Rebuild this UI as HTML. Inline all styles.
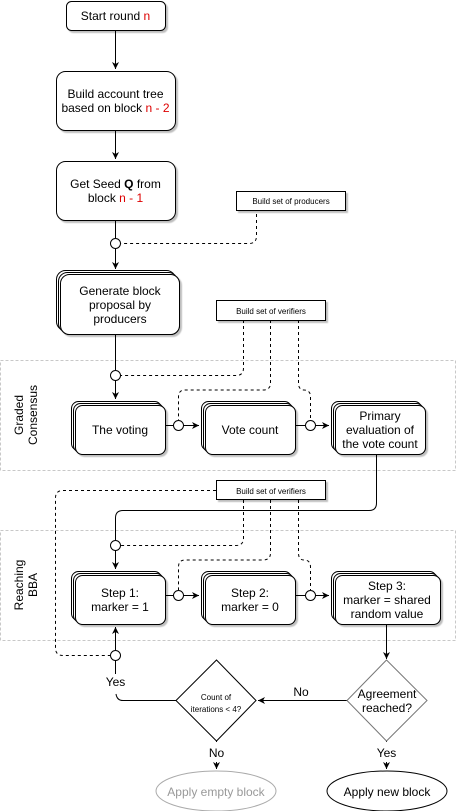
<!DOCTYPE html>
<html><head><meta charset="utf-8"><style>
html,body{margin:0;padding:0;background:#fff;}
svg{display:block;font-family:"Liberation Sans",Arial,sans-serif;}
</style></head><body>
<svg width="456" height="811" viewBox="0 0 456 811" xmlns="http://www.w3.org/2000/svg">
<defs>
<marker id="a" markerWidth="8" markerHeight="8" refX="7" refY="4" orient="auto" markerUnits="userSpaceOnUse">
<path d="M0,0.5 L7,4 L0,7.5 L2,4 Z" fill="#000"/></marker>
<filter id="s" x="-10%" y="-10%" width="130%" height="130%"><feDropShadow dx="2" dy="2" stdDeviation="0.6" flood-color="#000" flood-opacity="0.25"/></filter>
</defs>
<rect x="0.5" y="360.5" width="455" height="110" fill="none" stroke="#c8c8c8" stroke-dasharray="3,2"/>
<rect x="0.5" y="530.5" width="455" height="110" fill="none" stroke="#c8c8c8" stroke-dasharray="3,2"/>
<text transform="translate(25,415) rotate(-90)" font-size="12" text-anchor="middle"><tspan x="0" y="-2">Graded</tspan><tspan x="0" y="12">Consensus</tspan></text>
<text transform="translate(25,585) rotate(-90)" font-size="12" text-anchor="middle"><tspan x="0" y="-2">Reaching</tspan><tspan x="0" y="12">BBA</tspan></text>

<g stroke="#000" fill="none" stroke-width="1">
<line x1="115.5" y1="30" x2="115.5" y2="69" marker-end="url(#a)"/>
<line x1="115.5" y1="130" x2="115.5" y2="159" marker-end="url(#a)"/>
<line x1="115.5" y1="220" x2="115.5" y2="238"/>
<line x1="115.5" y1="248" x2="115.5" y2="269" marker-end="url(#a)"/>
<line x1="115.5" y1="334" x2="115.5" y2="370"/>
<line x1="115.5" y1="380" x2="115.5" y2="399" marker-end="url(#a)"/>
<line x1="165" y1="425.5" x2="173" y2="425.5"/>
<line x1="183" y1="425.5" x2="199" y2="425.5" marker-end="url(#a)"/>
<line x1="295" y1="425.5" x2="305" y2="425.5"/>
<line x1="315" y1="425.5" x2="329" y2="425.5" marker-end="url(#a)"/>
<path d="M376.5,455 V503 Q376.5,510.5 369,510.5 H123 Q115.5,510.5 115.5,518 V540"/>
<line x1="115.5" y1="550" x2="115.5" y2="569" marker-end="url(#a)"/>
<line x1="165" y1="595.5" x2="173" y2="595.5"/>
<line x1="183" y1="595.5" x2="199" y2="595.5" marker-end="url(#a)"/>
<line x1="295" y1="595.5" x2="305" y2="595.5"/>
<line x1="315" y1="595.5" x2="329" y2="595.5" marker-end="url(#a)"/>
<line x1="386.5" y1="625" x2="386.5" y2="659" marker-end="url(#a)"/>
<line x1="347" y1="700.5" x2="258" y2="700.5" marker-end="url(#a)"/>
<path d="M176,700.5 H123 Q117,700.5 116,694"/>
<line x1="115.5" y1="676" x2="115.5" y2="660"/>
<line x1="115.5" y1="650" x2="115.5" y2="627" marker-end="url(#a)"/>
<line x1="216.5" y1="740" x2="216.5" y2="769" marker-end="url(#a)"/>
<line x1="386.5" y1="740" x2="386.5" y2="769" marker-end="url(#a)"/>
</g>
<g stroke="#000" fill="none" stroke-dasharray="3,3">
<path d="M256.5,214 V236 Q256.5,243.5 249,243.5 H120.5"/>
<path d="M243.5,320 V368 Q243.5,375.5 236,375.5 H120.5"/>
<path d="M270.5,320 V383 Q270.5,390 263,390 H185 Q178.5,390 178.5,397 V420"/>
<path d="M298.5,320 V383 Q298.5,390 304,390 Q310.5,390 310.5,397 V420"/>
<path d="M216,490.5 H63 Q55.5,490.5 55.5,498 V648 Q55.5,655.5 63,655.5 H110.5"/>
<path d="M243.5,500 V538 Q243.5,545.5 236,545.5 H120.5"/>
<path d="M270.5,500 V553 Q270.5,560 263,560 H185 Q178.5,560 178.5,567 V590"/>
<path d="M298.5,500 V553 Q298.5,560 304,560 Q310.5,560 310.5,567 V590"/>
</g>
<g fill="#fff" stroke="#000">
<circle cx="115.5" cy="243.5" r="5"/>
<circle cx="115.5" cy="375.5" r="5"/>
<circle cx="178.5" cy="425.5" r="5"/>
<circle cx="310.5" cy="425.5" r="5"/>
<circle cx="115.5" cy="545.5" r="5"/>
<circle cx="178.5" cy="595.5" r="5"/>
<circle cx="310.5" cy="595.5" r="5"/>
<circle cx="115.5" cy="655.5" r="5"/>
</g>
<g fill="#fff" stroke="#000" filter="url(#s)">
<rect x="66.5" y="1.5" width="99" height="29" rx="5"/>
<rect x="56.5" y="71.5" width="119" height="59" rx="9"/>
<rect x="56.5" y="161.5" width="119" height="59" rx="9"/>
<rect x="236.5" y="191.5" width="109" height="19"/>
<rect x="216.5" y="300.5" width="109" height="20"/>
<rect x="216.5" y="480.5" width="109" height="19"/>
</g>
<g fill="#fff" stroke="#000">
<g filter="url(#s)">
<rect x="60.5" y="274.5" width="119" height="60" rx="9"/>
<rect x="75.5" y="405.5" width="90" height="49" rx="7"/>
<rect x="205.5" y="405.5" width="90" height="49" rx="7"/>
<rect x="335.5" y="405.5" width="90" height="49" rx="7"/>
<rect x="75.5" y="575.5" width="90" height="49" rx="7"/>
<rect x="205.5" y="575.5" width="90" height="49" rx="7"/>
<rect x="335.5" y="575.5" width="105" height="49" rx="7"/>
</g>
<rect x="56.5" y="270.5" width="119" height="60" rx="9"/>
<rect x="58.5" y="272.5" width="119" height="60" rx="9"/>
<rect x="60.5" y="274.5" width="119" height="60" rx="9"/>
<rect x="71.5" y="401.5" width="90" height="49" rx="7"/><rect x="73.5" y="403.5" width="90" height="49" rx="7"/><rect x="75.5" y="405.5" width="90" height="49" rx="7"/>
<rect x="201.5" y="401.5" width="90" height="49" rx="7"/><rect x="203.5" y="403.5" width="90" height="49" rx="7"/><rect x="205.5" y="405.5" width="90" height="49" rx="7"/>
<rect x="331.5" y="401.5" width="90" height="49" rx="7"/><rect x="333.5" y="403.5" width="90" height="49" rx="7"/><rect x="335.5" y="405.5" width="90" height="49" rx="7"/>
<rect x="71.5" y="571.5" width="90" height="49" rx="7"/><rect x="73.5" y="573.5" width="90" height="49" rx="7"/><rect x="75.5" y="575.5" width="90" height="49" rx="7"/>
<rect x="201.5" y="571.5" width="90" height="49" rx="7"/><rect x="203.5" y="573.5" width="90" height="49" rx="7"/><rect x="205.5" y="575.5" width="90" height="49" rx="7"/>
<rect x="331.5" y="571.5" width="105" height="49" rx="7"/><rect x="333.5" y="573.5" width="105" height="49" rx="7"/><rect x="335.5" y="575.5" width="105" height="49" rx="7"/>
</g>
<polygon points="386.5,660 427,700.5 386.5,741 347,700.5" fill="#fff" stroke="#777"/>
<polygon points="216.5,660 256,700.5 216.5,741 176,700.5" fill="#fff" stroke="#000"/>
<ellipse cx="216" cy="791" rx="60" ry="20" fill="#fff" stroke="#aaa"/>
<ellipse cx="387" cy="791" rx="60" ry="20" fill="#fff" stroke="#000"/>
<rect x="103" y="674" width="25" height="16" fill="#fff"/>
<rect x="204" y="742" width="25" height="20" fill="#fff"/>
<rect x="374" y="742" width="25" height="20" fill="#fff"/>
<g font-size="12" text-anchor="middle" fill="#000">
<text x="115.5" y="20">Start round <tspan fill="#d00">n</tspan></text>
<text x="115.5" y="98">Build account tree</text>
<text x="115.5" y="112">based on block <tspan fill="#d00">n - 2</tspan></text>
<text x="115.5" y="188">Get Seed <tspan font-weight="bold">Q</tspan> from</text>
<text x="115.5" y="202">block <tspan fill="#d00">n - 1</tspan></text>
<text x="120" y="295">Generate block</text>
<text x="120" y="309">proposal by</text>
<text x="120" y="323">producers</text>
<text x="120" y="434">The voting</text>
<text x="250" y="434">Vote count</text>
<text x="380" y="420">Primary</text>
<text x="380" y="434">evaluation of</text>
<text x="380" y="448">the vote count</text>
<text x="120" y="597">Step 1:</text>
<text x="120" y="611">marker = 1</text>
<text x="250" y="597">Step 2:</text>
<text x="250" y="611">marker = 0</text>
<text x="387" y="590">Step 3:</text>
<text x="387" y="604">marker = shared</text>
<text x="387" y="618">random value</text>
<text x="387" y="698">Agreement</text>
<text x="387" y="712">reached?</text>
<text x="115.5" y="686">Yes</text>
<text x="301" y="696">No</text>
<text x="216.5" y="757">No</text>
<text x="386.5" y="757">Yes</text>
<text x="216" y="796" fill="#999">Apply empty block</text>
<text x="387" y="796">Apply new block</text>
</g>
<g font-size="8" text-anchor="middle">
<text x="291" y="204">Build set of producers</text>
<text x="271" y="314">Build set of verifiers</text>
<text x="271" y="494">Build set of verifiers</text>
<text x="216" y="700">Count of</text>
<text x="216" y="712">iterations &lt; 4?</text>
</g>
</svg>
</body></html>
